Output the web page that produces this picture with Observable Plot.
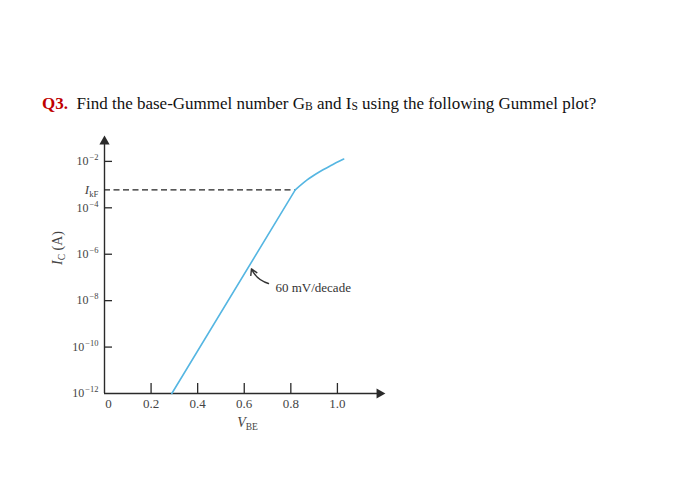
<!DOCTYPE html>
<html><head><meta charset="utf-8">
<script src="https://cdn.jsdelivr.net/npm/d3@7"></script>
<script src="https://cdn.jsdelivr.net/npm/@observablehq/plot@0.6"></script>
<style>
body{margin:0;background:#fff;}
#wrap{position:relative;width:700px;height:489px;overflow:hidden;}
#chart{position:absolute;left:0;top:0;}
#title{position:absolute;left:42px;top:94px;font-family:"Liberation Serif","Times New Roman",serif;font-size:17px;color:#111;white-space:nowrap;}
#title b{color:#c00000;}
#title sub{font-size:0.68em;vertical-align:-0.12em;}
</style></head>
<body><div id="wrap"><div id="chart"></div>
<div id="title"><b>Q3.</b>&nbsp; Find the base-Gummel number G<sub>B</sub> and I<sub>S</sub> using the following Gummel plot?</div></div>
<script>
// Gummel plot data (VBE in volts, log10 of IC in amps)
const vbe   = [0.289, 0.819, 0.870, 0.920, 0.970, 1.027];
const logIc = [-12, -3.23, -2.80, -2.47, -2.19, -1.90];
const yTickExps = [-2, -4, -6, -8, -10, -12];
const yTickLabels = ["10^−2", "10^−4", "10^−6", "10^−8", "10^−10", "10^−12"];
const xTicks = [0.2, 0.4, 0.6, 0.8, 1.0];
const xTickLabels = ["0.2", "0.4", "0.6", "0.8", "1.0"];
const originLabel = ["0"];
const kneeV = [0.819];
const kneeLogI = [-3.23];
const kneeLabel = ["I_kF"];
const noteText = ["60 mV/decade"];
const noteArrowV = [0.704, 0.631];
const noteArrowLogI = [-7.26, -6.63];
const noteTextV = [0.734];
const noteTextLogI = [-7.43];
const xLabel = ["V_BE"];
const yLabel = ["I_C (A)"];

const curve = vbe.map((v, i) => ({v, I: 10 ** logIc[i]}));
const linearPart = curve.slice(0, 2);
const rolloffPart = curve.slice(1);
const yTicks = yTickExps.map((e, i) => ({I: 10 ** e, label: yTickLabels[i]}));
const xt = xTicks.map((v, i) => ({v, label: xTickLabels[i]}));
const IkF = 10 ** kneeLogI[0];
const note = [{v1: noteArrowV[0], i1: 10 ** noteArrowLogI[0], v2: noteArrowV[1], i2: 10 ** noteArrowLogI[1]}];

const axisColor = "#2a2a2a";
const labelColor = "#444";
const lineColor = "#55b6e2";

const svg = Plot.plot({
  width: 700, height: 489,
  marginLeft: 104, marginRight: 320, marginTop: 140, marginBottom: 96,
  style: {fontFamily: "'Liberation Serif','Times New Roman',serif", fontSize: "12px", color: labelColor, background: "transparent"},
  x: {domain: [0, 1.185], axis: null},
  y: {type: "log", domain: [1e-12, 10 ** -1.1], axis: null},
  marks: [
    Plot.ruleX([0], {x: d => d, stroke: axisColor, strokeWidth: 1.4}),
    Plot.ruleY([1e-12], {y: d => d, stroke: axisColor, strokeWidth: 1.4}),
    Plot.dot([0], {x: d => d, frameAnchor: "top", symbol: "triangle", r: 3.8, fill: axisColor, stroke: "none", dy: 1}),
    Plot.dot([1e-12], {y: d => d, frameAnchor: "right", symbol: "triangle", rotate: 90, r: 3.8, fill: axisColor, stroke: "none", dx: -1}),
    Plot.ruleY(yTicks.filter(d => d.I > 1e-12), {y: "I", insetRight: 268, stroke: axisColor, strokeWidth: 1.3}),
    Plot.ruleX(xt, {x: "v", insetTop: 243, stroke: axisColor, strokeWidth: 1.3}),
    Plot.text(yTicks, {x: 0, y: "I", text: "label", textAnchor: "end", dx: -6, fontSize: 12}),
    Plot.text(xt, {x: "v", y: 1e-12, text: "label", dy: 10, fontSize: 13}),
    Plot.text(originLabel, {x: 0, y: 1e-12, text: d => d, dy: 10, dx: 4, fontSize: 13}),
    Plot.ruleY([IkF], {y: d => d, x1: 0, x2: kneeV[0], stroke: "#222", strokeWidth: 1.2, strokeDasharray: "6,3.5"}),
    Plot.text(kneeLabel, {x: 0, y: IkF, text: d => d, textAnchor: "end", dx: -6, fontSize: 13}),
    Plot.line(linearPart, {x: "v", y: "I", stroke: lineColor, strokeWidth: 1.6}),
    Plot.line(rolloffPart, {x: "v", y: "I", stroke: lineColor, strokeWidth: 1.6, curve: "monotone-x"}),
    Plot.arrow(note, {x1: "v1", y1: "i1", x2: "v2", y2: "i2", bend: 25, headLength: 7, stroke: "#333", strokeWidth: 1.4}),
    Plot.text(noteText, {x: noteTextV[0], y: 10 ** noteTextLogI[0], text: d => d, textAnchor: "start", fill: "#333", fontSize: 13}),
    Plot.text(xLabel, {frameAnchor: "bottom", text: d => d, dy: 33, dx: 5, fontSize: 14}),
    Plot.text(yLabel, {frameAnchor: "left", text: d => d, rotate: -90, dx: -47, dy: -2, fontSize: 14})
  ]
});

const NS = "http://www.w3.org/2000/svg";
function span(parent, txt, attrs) {
  const s = document.createElementNS(NS, "tspan");
  for (const k in attrs) s.setAttribute(k, attrs[k]);
  s.textContent = txt;
  parent.appendChild(s);
  return s;
}
// Turn "10^−n" into superscripts and "X_sub rest" into italic letter with subscript
svg.querySelectorAll("text").forEach(t => {
  const s = t.textContent;
  if (s.includes("^")) {
    const [base, exp] = s.split("^");
    t.textContent = "";
    span(t, base, {});
    span(t, exp, {dy: "-5", dx: "1", "font-size": "8.5px"});
  } else {
    const m = s.match(/^(\w)_(\w+)(.*)$/);
    if (m) {
      t.textContent = "";
      span(t, m[1], {"font-style": "italic"});
      span(t, m[2], {dy: "3", "font-size": "0.68em"});
      if (m[3]) span(t, m[3], {dy: "-3"});
    }
  }
});

document.getElementById("chart").appendChild(svg);
</script>
</body></html>
